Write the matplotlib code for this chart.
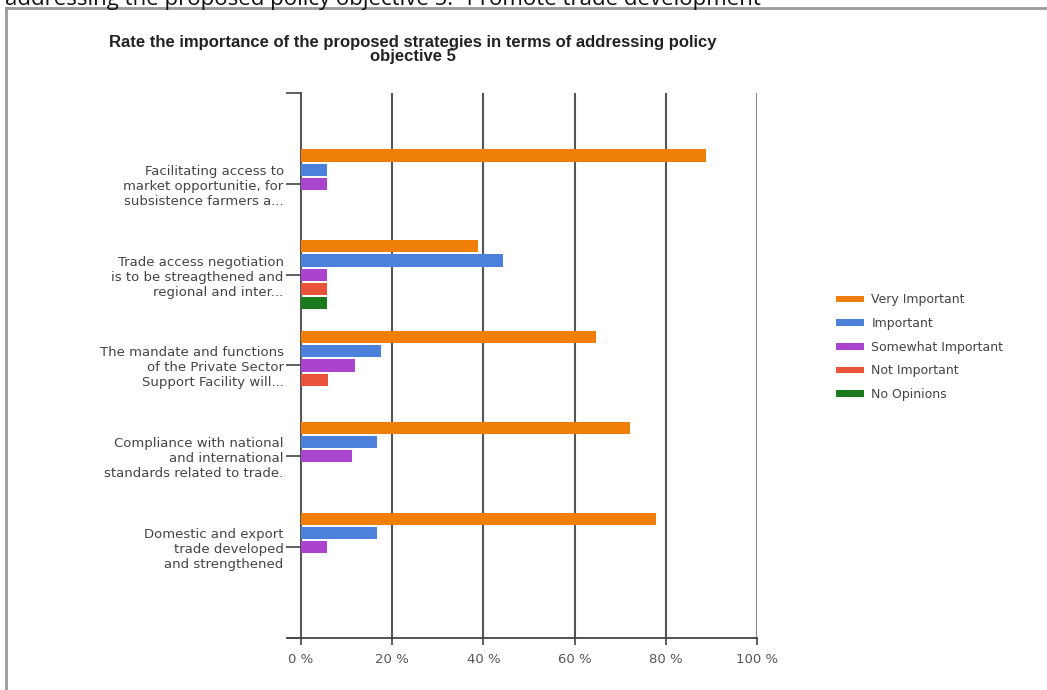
import numpy as np
import matplotlib
matplotlib.use("Agg")
from matplotlib import pyplot as plt
from matplotlib.lines import Line2D

# answers in percent, one list per rating level
categories = [
    "Facilitating access to\nmarket opportunitie, for\nsubsistence farmers a...",
    "Trade access negotiation\nis to be streagthened and\nregional and inter...",
    "The mandate and functions\nof the Private Sector\nSupport Facility will...",
    "Compliance with national\nand international\nstandards related to trade.",
    "Domestic and export\ntrade developed\nand strengthened",
]
very_important = [88.9, 38.9, 64.7, 72.2, 77.8]
important = [5.6, 44.4, 17.6, 16.7, 16.7]
somewhat_important = [5.6, 5.6, 11.8, 11.1, 5.6]
not_important = [0, 5.6, 5.9, 0, 0]
no_opinions = [0, 5.6, 0, 0, 0]

series = [
    ("Very Important", very_important, "#F07F0A"),
    ("Important", important, "#4C80DA"),
    ("Somewhat Important", somewhat_important, "#AA44CC"),
    ("Not Important", not_important, "#E8533A"),
    ("No Opinions", no_opinions, "#1C7A1E"),
]
xticks = [0, 20, 40, 60, 80, 100]

fig = plt.figure(figsize=(10.47, 6.90), dpi=100)
ax = fig.add_axes([0.2875, 0.0754, 0.4355, 0.7898])

y = np.arange(1, len(categories) + 1)
step = 0.156
for i, (name, vals, col) in enumerate(series):
    ax.barh(y + (i - 2) * step, vals, height=0.135, color=col, label=name, zorder=3)

ax.set_ylim(6, 0)
ax.set_xlim(0, 100)
ax.set_yticks(y)
ax.set_yticklabels(categories, fontsize=9.5, color="#444444", linespacing=1.2)
ax.set_yticks([0, 6], minor=True)
ax.tick_params(axis="y", which="both", length=11, width=1.2, color="#444444", pad=1.5)
ax.set_xticks(xticks)
ax.set_xticklabels([f"{v} %" for v in xticks], fontsize=9.5, color="#555555")
ax.tick_params(axis="x", length=5, width=1.2, color="#444444", pad=6)

for v in xticks[1:]:
    ax.axvline(v, color="#555555" if v < 100 else "#888888", lw=1.5, zorder=1)

for s in ["top", "right"]:
    ax.spines[s].set_visible(False)
ax.spines["left"].set_color("#444444")
ax.spines["left"].set_linewidth(1.3)
ax.spines["bottom"].set_color("#444444")
ax.spines["bottom"].set_linewidth(1.3)
ax.spines["bottom"].set_bounds(-2.8, 100)

fig.text(0.394, 0.928, "Rate the importance of the proposed strategies in terms of addressing policy\nobjective 5",
         ha="center", va="center", fontsize=12, fontweight="bold", color="#222222",
         family="Liberation Sans", linespacing=0.95)

leg = fig.legend(loc="upper left", bbox_to_anchor=(0.788, 0.591), frameon=False,
                 fontsize=9, handlelength=2.2, handleheight=0.45, labelspacing=0.85,
                 handletextpad=0.6)
for t in leg.get_texts():
    t.set_color("#444444")

# page frame and cut-off heading above the chart box
fig.add_artist(Line2D([6 / 1047, 6 / 1047], [0, 1 - 8 / 690], transform=fig.transFigure,
                      color="#9a9a9a", lw=2))
fig.add_artist(Line2D([6 / 1047, 1], [1 - 8 / 690, 1 - 8 / 690], transform=fig.transFigure,
                      color="#9a9a9a", lw=2))
fig.text(5 / 1047, 1 - 5 / 690, "addressing the proposed policy objective 5: \u201cPromote trade development\u201d",
         ha="left", va="baseline", fontsize=16, family="Open Sans", color="#111111")

fig.savefig("out.png", dpi=100)
